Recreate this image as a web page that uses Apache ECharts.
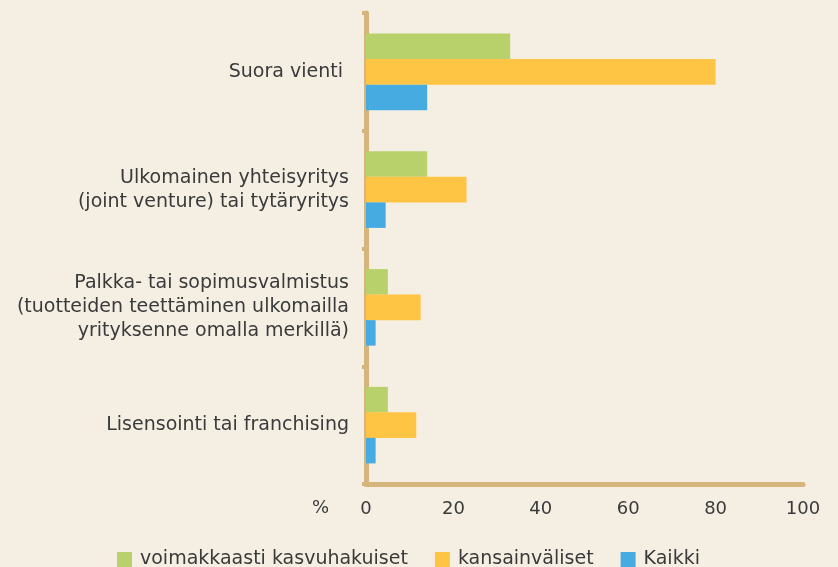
<!DOCTYPE html>
<html>
<head>
<meta charset="utf-8">
<script src="https://cdn.jsdelivr.net/npm/echarts@6/dist/echarts.min.js"></script>
<style>
  html, body { margin: 0; padding: 0; background: #f5efe3; }
  #chart { width: 838px; height: 567px; }
</style>
</head>
<body>
<div id="chart"></div>
<script>
var categories = [
  'Suora vienti ',
  'Ulkomainen yhteisyritys\n(joint venture) tai tytäryritys',
  'Palkka- tai sopimusvalmistus\n(tuotteiden teettäminen ulkomailla\nyrityksenne omalla merkillä)',
  'Lisensointi tai franchising'
]
var seriesNames = ['voimakkaasti kasvuhakuiset', 'kansainväliset', 'Kaikki']
var kasvuhakuiset = [33, 14, 5, 5]
var kansainvaliset = [80, 23, 12.5, 11.5]
var kaikki = [14, 4.5, 2.2, 2.2]
var xTicks = [0, 20, 40, 60, 80, 100]

var colors = ['#b8d16b', '#fec443', '#46abe0']
var axisColor = '#d6b57c'
var textColor = '#3a3a3a'
var font = 'DejaVu Sans'

var chart = echarts.init(document.getElementById('chart'))

var option = {
  backgroundColor: '#f5efe3',
  animation: false,
  textStyle: { fontFamily: font },
  grid: {
    left: 366,
    right: 35,
    top: 13,
    bottom: 83
  },
  legend: {
    left: 112,
    top: 545,
    itemWidth: 15,
    itemHeight: 15,
    itemGap: 27,
    icon: 'rect',
    data: seriesNames,
    textStyle: {
      color: textColor,
      fontSize: 19,
      fontFamily: font,
      padding: [0, 0, 0, 3]
    }
  },
  xAxis: {
    type: 'value',
    min: xTicks[0],
    max: xTicks[xTicks.length - 1],
    interval: 20,
    splitLine: { show: false },
    axisTick: { show: false },
    axisLine: {
      show: true,
      lineStyle: { color: axisColor, width: 5 }
    },
    axisLabel: {
      color: textColor,
      fontSize: 18,
      fontFamily: font,
      margin: 16
    }
  },
  yAxis: {
    type: 'category',
    inverse: true,
    data: categories,
    axisLine: {
      show: true,
      lineStyle: { color: axisColor, width: 5 }
    },
    axisTick: {
      show: true,
      length: 4,
      lineStyle: { color: axisColor, width: 4 }
    },
    axisLabel: {
      color: textColor,
      fontSize: 19,
      fontFamily: font,
      lineHeight: 24,
      margin: 17,
      align: 'right'
    }
  },
  graphic: [
    {
      type: 'text',
      left: 312,
      top: 499,
      style: {
        text: '%',
        fill: textColor,
        font: '18px "' + font + '"'
      }
    }
  ],
  series: [
    {
      name: seriesNames[0],
      type: 'bar',
      data: kasvuhakuiset,
      barGap: 0,
      barCategoryGap: '35%',
      itemStyle: { color: colors[0] }
    },
    {
      name: seriesNames[1],
      type: 'bar',
      data: kansainvaliset,
      barGap: 0,
      barCategoryGap: '35%',
      itemStyle: { color: colors[1] }
    },
    {
      name: seriesNames[2],
      type: 'bar',
      data: kaikki,
      barGap: 0,
      barCategoryGap: '35%',
      itemStyle: { color: colors[2] }
    }
  ]
}

chart.setOption(option)
</script>
</body>
</html>
